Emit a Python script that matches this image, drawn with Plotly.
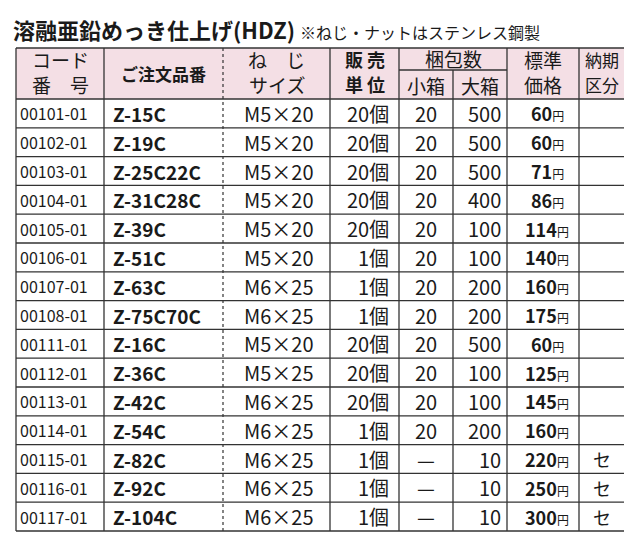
import plotly.graph_objects as go

codes = ["00101-01", "00102-01", "00103-01", "00104-01", "00105-01", "00106-01", "00107-01", "00108-01",
         "00111-01", "00112-01", "00113-01", "00114-01", "00115-01", "00116-01", "00117-01"]
products = ["Z-15C", "Z-19C", "Z-25C22C", "Z-31C28C", "Z-39C", "Z-51C", "Z-63C", "Z-75C70C",
            "Z-16C", "Z-36C", "Z-42C", "Z-54C", "Z-82C", "Z-92C", "Z-104C"]
sizes = ["M5×20", "M5×20", "M5×20", "M5×20", "M5×20", "M5×20", "M6×25", "M6×25",
         "M5×20", "M5×25", "M6×25", "M6×25", "M6×25", "M6×25", "M6×25"]
units = ["20個", "20個", "20個", "20個", "20個", "1個", "1個", "1個",
         "20個", "20個", "20個", "1個", "1個", "1個", "1個"]
small_box = ["20", "20", "20", "20", "20", "20", "20", "20", "20", "20", "20", "20", "—", "—", "—"]
large_box = ["500", "500", "500", "400", "100", "100", "200", "200", "500", "100", "100", "200", "10", "10", "10"]
prices = [60, 60, 71, 86, 114, 140, 160, 175, 60, 125, 145, 160, 220, 250, 300]
delivery = ["", "", "", "", "", "", "", "", "", "", "", "", "セ", "セ", "セ"]

title = "溶融亜鉛めっき仕上げ(HDZ)"
note = "※ねじ・ナットはステンレス鋼製"

W, H = 632, 534
cols = [8, 96, 215, 322, 391, 445, 499, 571, 617]
top, mid, hbot = 40, 62, 91
rh = 28.8
bottom = hbot + rh * len(codes)
FONT = "Noto Sans CJK JP"
LINE = "#333333"

fig = go.Figure()

# header background
fig.add_trace(go.Scatter(x=[cols[0], cols[-1], cols[-1], cols[0], cols[0]], y=[top, top, hbot, hbot, top],
                         fill="toself", fillcolor="#f4dfe5", mode="none", hoverinfo="skip"))

# solid grid lines
gx, gy = [], []
for i, x in enumerate(cols):
    if i == 2:
        continue
    gx += [x, x, None]
    gy += [mid if i == 5 else top, bottom, None]
gx += [cols[0], cols[-1], None, cols[4], cols[6], None]
gy += [top, top, None, mid, mid, None]
for r in range(len(codes) + 1):
    y = hbot + r * rh
    gx += [cols[0], cols[-1], None]
    gy += [y, y, None]
fig.add_trace(go.Scatter(x=gx, y=gy, mode="lines", line=dict(color=LINE, width=1.3), hoverinfo="skip"))
fig.add_trace(go.Scatter(x=[cols[2], cols[2]], y=[top, bottom], mode="lines",
                         line=dict(color=LINE, width=1.2, dash="dot"), hoverinfo="skip"))

fig.update_xaxes(range=[0, W], visible=False, fixedrange=True)
fig.update_yaxes(range=[H, 0], visible=False, fixedrange=True)

ann = []
def t(x, y, s, size=19, bold=False, anchor="center", color="#1a1a1a"):
    txt = f"<b>{s}</b>" if bold else s
    ann.append(dict(x=x, y=y, xref="x", yref="y", text=txt, showarrow=False, xanchor=anchor,
                    yanchor="middle", font=dict(family=FONT, size=size, color=color)))

t(3, 21, f"<b>{title}</b> <span style='font-size:16px'>{note}</span>", size=22, anchor="left")

t((cols[0] + cols[1]) / 2, 51, "コード", 19); t((cols[0] + cols[1]) / 2, 76, "番　号", 19)
t((cols[1] + cols[2]) / 2, 65, "ご注文品番", 17, bold=True)
t((cols[2] + cols[3]) / 2, 51, "ね　じ", 19); t((cols[2] + cols[3]) / 2, 76, "サイズ", 19)
t((cols[3] + cols[4]) / 2, 51, "販 売", 18, bold=True); t((cols[3] + cols[4]) / 2, 76, "単 位", 18, bold=True)
t((cols[4] + cols[6]) / 2, 50, "梱包数", 19)
t((cols[4] + cols[5]) / 2, 77, "小箱", 19); t((cols[5] + cols[6]) / 2, 77, "大箱", 19)
t((cols[6] + cols[7]) / 2, 51, "標準", 19); t((cols[6] + cols[7]) / 2, 76, "価格", 19)
t((cols[7] + cols[8]) / 2, 51, "納期", 17); t((cols[7] + cols[8]) / 2, 76, "区分", 17)

for i in range(len(codes)):
    y = hbot + rh * (i + 0.5)
    t(cols[0] + 2, y, codes[i], 16, anchor="left")
    t(cols[1] + 7, y, products[i], 19, bold=True, anchor="left")
    t((cols[2] + cols[3]) / 2 + 2, y, sizes[i], 20)
    t(cols[4] - 8, y, units[i], 20, anchor="right")
    t((cols[4] + cols[5]) / 2, y, small_box[i], 20)
    t(cols[6] - 4, y, large_box[i], 20, anchor="right")
    t((cols[6] + cols[7]) / 2 + 4, y, f"<b>{prices[i]}</b><span style='font-size:12px'>円</span>", 18)
    if delivery[i]:
        t((cols[7] + cols[8]) / 2, y, delivery[i], 18)

fig.update_layout(width=W, height=H, margin=dict(l=0, r=0, t=0, b=0), plot_bgcolor="white",
                  paper_bgcolor="white", annotations=ann, showlegend=False)
fig.write_html("out.html", config={"displayModeBar": False})
